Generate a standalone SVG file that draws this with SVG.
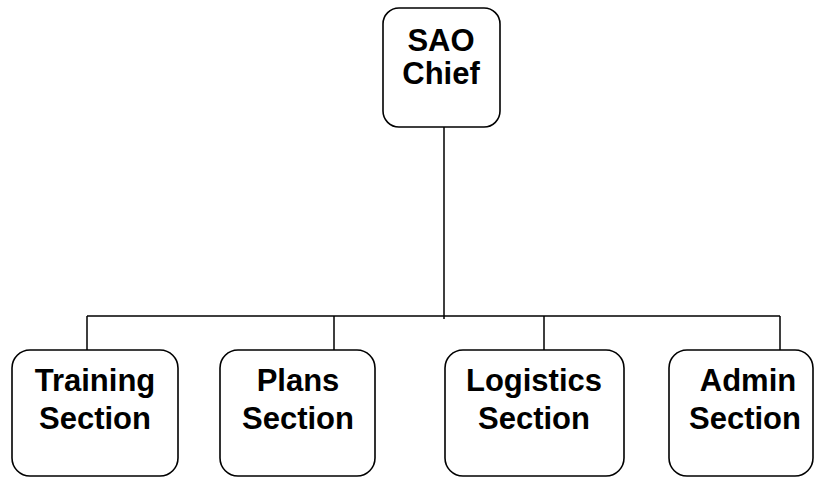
<svg xmlns="http://www.w3.org/2000/svg" width="814" height="478" viewBox="0 0 814 478">
<style>
.box{fill:#fff;stroke:#000;stroke-width:1.6}
.t{font-family:"Liberation Sans",Arial,sans-serif;font-weight:bold;font-size:31px;text-anchor:middle;fill:#000}
.c{fill:none;stroke:#000;stroke-width:1.5}
</style>
<rect width="814" height="478" fill="#fff"/>
<g id="connectors">
<path class="c" d="M444 127V319M87 316H780M87 316V350M334 316V350M544 316V350M780 316V350"/>
</g>
<g id="sao">
<rect class="box" x="383" y="8" width="117" height="119" rx="16"/>
<text class="t" x="441" y="51">SAO</text>
<text class="t" x="441" y="84">Chief</text>
</g>
<g id="training">
<rect class="box" x="12" y="350" width="166" height="126" rx="18"/>
<text class="t" x="95" y="391">Training</text>
<text class="t" x="95" y="429">Section</text>
</g>
<g id="plans">
<rect class="box" x="220" y="350" width="155" height="126" rx="18"/>
<text class="t" x="298" y="391">Plans</text>
<text class="t" x="298" y="429">Section</text>
</g>
<g id="logistics">
<rect class="box" x="445" y="350" width="179" height="126" rx="18"/>
<text class="t" x="534" y="391">Logistics</text>
<text class="t" x="534" y="429">Section</text>
</g>
<g id="admin">
<rect class="box" x="669" y="350" width="144" height="126" rx="18"/>
<text class="t" x="748" y="391">Admin</text>
<text class="t" x="745" y="429">Section</text>
</g>
</svg>
